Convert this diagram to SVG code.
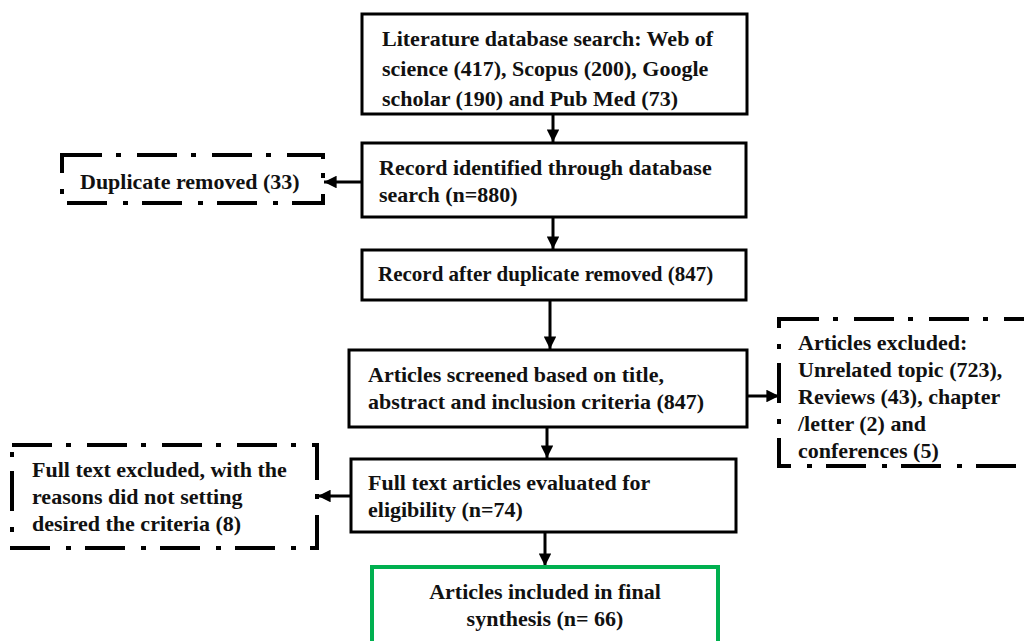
<svg xmlns="http://www.w3.org/2000/svg" width="1024" height="641" viewBox="0 0 1024 641">
<style>
text{font-family:"Liberation Serif","Times New Roman",serif;font-weight:bold;font-size:22px;fill:#111}
.box{fill:#fff;stroke:#000;stroke-width:3}
.dd{fill:#fff;stroke:#000;stroke-width:4;stroke-dasharray:40 14 5 16}
.green{fill:#fff;stroke:#00b050;stroke-width:4}
.conn{stroke:#000;stroke-width:3;fill:none;marker-end:url(#ah)}
</style>
<defs>
<marker id="ah" viewBox="0 0 10 10" refX="10" refY="5" markerWidth="4.2" markerHeight="4.2" markerUnits="strokeWidth" orient="auto">
<path d="M0,0 L10,5 L0,10 z" fill="#000"/>
</marker>
</defs>
<rect width="1024" height="641" fill="#fff"/>
<g id="connectors">
<line class="conn" x1="553" y1="115" x2="553" y2="142"/>
<line class="conn" x1="362" y1="182" x2="324" y2="182"/>
<line class="conn" x1="553" y1="217" x2="553" y2="249"/>
<line class="conn" x1="550" y1="300" x2="550" y2="349"/>
<line class="conn" x1="747" y1="396" x2="779" y2="396"/>
<line class="conn" x1="547" y1="427" x2="547" y2="458"/>
<line class="conn" x1="351" y1="496" x2="318" y2="496"/>
<line class="conn" x1="545" y1="532" x2="545" y2="566"/>
</g>
<g id="n1">
<rect class="box" x="362" y="14" width="385" height="100"/>
<text x="382" y="46">Literature database search: Web of</text>
<text x="382" y="76">science (417), Scopus (200), Google</text>
<text x="382" y="106">scholar (190) and Pub Med (73)</text>
</g>
<g id="n2">
<rect class="box" x="362" y="143" width="384" height="74"/>
<text x="379" y="175">Record identified through database</text>
<text x="379" y="202">search (n=880)</text>
</g>
<g id="dup">
<rect class="dd" x="62" y="155" width="261" height="48"/>
<text x="80" y="189">Duplicate removed (33)</text>
</g>
<g id="n3">
<rect class="box" x="362" y="250" width="384" height="50"/>
<text x="378" y="281" style="font-size:21px">Record after duplicate removed (847)</text>
</g>
<g id="n4">
<rect class="box" x="349" y="350" width="398" height="77"/>
<text x="368" y="382">Articles screened based on title,</text>
<text x="368" y="409">abstract and inclusion criteria (847)</text>
</g>
<g id="excl">
<rect class="dd" x="779" y="319" width="270" height="147"/>
<text x="798" y="350">Articles excluded:</text>
<text x="798" y="377">Unrelated topic (723),</text>
<text x="798" y="404">Reviews (43), chapter</text>
<text x="798" y="431">/letter (2) and</text>
<text x="798" y="458">conferences (5)</text>
</g>
<g id="n5">
<rect class="box" x="351" y="459" width="385" height="73"/>
<text x="368" y="490">Full text articles evaluated for</text>
<text x="368" y="517">eligibility (n=74)</text>
</g>
<g id="fte">
<rect class="dd" x="12" y="445" width="305" height="103"/>
<text x="32" y="477">Full text excluded, with the</text>
<text x="32" y="504">reasons did not setting</text>
<text x="32" y="531">desired the criteria (8)</text>
</g>
<g id="n6">
<rect class="green" x="372" y="567" width="346" height="90"/>
<text x="545" y="599" text-anchor="middle">Articles included in final</text>
<text x="545" y="626" text-anchor="middle">synthesis (n= 66)</text>
</g>
</svg>
